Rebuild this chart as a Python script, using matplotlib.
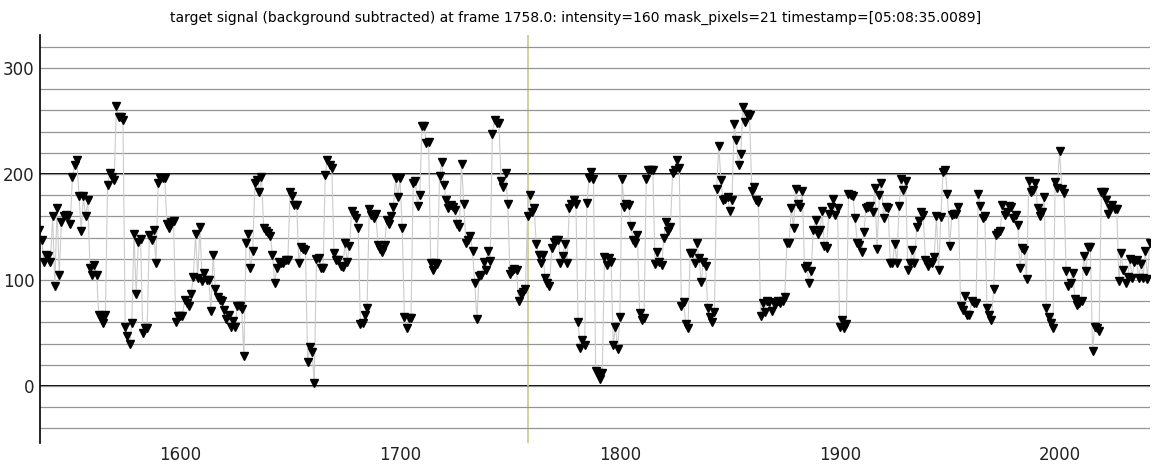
import numpy as np
import matplotlib
matplotlib.use("Agg")
import matplotlib.pyplot as plt
from matplotlib.ticker import MultipleLocator

# intensity per frame, first frame is 1536
first_frame = 1536
intensity = [
    147, 138, 117, 124, 123, 117, 160, 94, 168, 105,
    155, 160, 161, 160, 153, 197, 208, 213, 179, 146,
    179, 160, 175, 111, 105, 114, 105, 67, 64, 59,
    67, 190, 201, 197, 194, 264, 254, 254, 251, 56,
    47, 40, 59, 143, 87, 136, 139, 50,
    55, 55,
    142, 138, 147, 116, 191, 196, 196, 196, 153, 149,
    155, 156, 60, 66, 66, 66, 81, 78, 75, 87,
    103, 143, 102, 150, 99, 107, 100, 100, 71, 124,
    91, 84, 81, 80, 72, 63, 67, 56, 61, 56,
    75, 75, 73, 28,
    135, 143, 111, 127, 191, 194, 183, 197, 149, 146,
    144, 141, 124, 97, 111, 117, 116, 116, 119, 119,
    183, 179, 171, 171, 116, 131, 129, 128, 23, 37,
    32, 3, 120, 121, 111, 111, 199, 213, 208, 206,
    125, 119, 119, 113,
    112, 135, 117, 132,
    165, 161, 158, 149, 58, 59, 67, 74, 167, 161,
    158, 162, 133, 129, 126, 133, 157, 153, 160, 169,
    196, 178, 196, 149, 65, 55, 64, 64, 191, 193,
    170, 180, 245, 245, 229, 230, 116, 109, 116, 115,
    198, 211,
    190, 175, 168, 171, 169, 166, 153, 150, 209, 172,
    135, 138, 141, 127, 97, 63, 104, 105, 117, 109,
    127, 118, 238, 251, 248, 248, 193, 188, 201, 172,
    106, 108, 110, 109, 80, 87, 89, 91, 160, 180,
    164, 168, 134, 124, 116, 124, 102,
    97, 94, 130, 136, 138, 138, 116, 123, 134, 116,
    168, 172, 175, 172, 60, 36, 43, 39, 173, 196,
    202, 195, 14, 12, 7, 12, 122, 114, 121, 117,
    39, 56, 35, 65, 195, 169, 172, 171, 151, 138,
    135, 142, 69, 62,
    64,
    195, 204, 204, 204, 115, 126, 117, 114, 140, 155,
    146, 150, 201, 204, 213, 206, 75, 79, 58, 55,
    125, 125, 116, 135, 121, 98, 117, 113, 74, 65,
    60, 70, 186, 226, 194, 175, 176, 178, 165, 175,
    247, 232, 208, 219, 263,
    249, 257, 256,
    184, 188, 175, 174, 66, 78, 70, 80, 79, 71,
    78, 78, 80, 78, 80, 84, 135, 135, 168, 149,
    186, 172, 169, 184, 111, 113, 97, 108, 147, 157,
    143, 147, 165, 132, 130, 162, 169, 176, 161, 168,
    56, 62, 55,
    58,
    181, 180, 179, 158, 135, 133, 126, 145, 168, 169,
    170, 164, 187, 129, 180, 191, 158, 169, 168, 116,
    116, 134, 116, 170, 195, 185, 193, 109, 116, 128,
    116, 150, 156, 164, 161, 119, 113, 117, 116, 122,
    160, 109, 159, 202,
    204,
    181, 132, 161, 162, 162, 169, 75, 72, 85, 67,
    67, 80, 78, 78, 181, 170, 158, 160, 74, 67,
    62, 91, 142, 144, 146, 171, 161, 164, 170, 169,
    158, 161, 152, 111, 130, 128, 101, 193, 183, 185,
    191, 168, 160,
    164, 178, 74, 65, 59, 55, 192, 187, 222, 186,
    182, 108, 94, 97, 107, 82, 76, 78, 80, 123,
    108, 131, 131, 33, 56, 55, 52, 183, 183, 175,
    162, 168, 171, 167, 167, 99, 125, 109, 97, 103,
    120, 102, 117, 119, 102, 115, 102, 127, 101, 135,
]
frames = np.arange(first_frame, first_frame + len(intensity))

current_frame = 1758.0
title = ("target signal (background subtracted) at frame 1758.0: intensity=160 "
         "mask_pixels=21 timestamp=[05:08:35.0089]")
y_ticks = [0, 100, 200, 300]
x_ticks = [1600, 1700, 1800, 1900, 2000]

fig = plt.figure(figsize=(11.52, 4.68), dpi=100)
ax = fig.add_axes([0.035, 0.053, 0.963, 0.872])

ax.yaxis.set_minor_locator(MultipleLocator(20))
ax.grid(which="minor", axis="y", color="#959595", lw=0.9)
ax.grid(which="major", axis="y", color="#959595", lw=0.9)
ax.axhline(0, color="black", lw=1.4, zorder=1)
ax.axhline(200, color="black", lw=1.4, zorder=1)
ax.axvline(current_frame, color="#c9cc8a", lw=1.2, zorder=1)

ax.plot(frames, intensity, color="#cccccc", lw=0.8, zorder=2)
ax.plot(frames, intensity, ls="none", marker="v", ms=5.5, color="black", zorder=3)

ax.set_xlim(1536.4, 2041)
ax.set_ylim(-54, 331)
ax.set_xticks(x_ticks)
ax.set_yticks(y_ticks)
ax.tick_params(axis="both", which="both", length=0, labelsize=12, colors="#222222", pad=4)
ax.tick_params(axis="x", pad=2)

for s in ["top", "right", "bottom"]:
    ax.spines[s].set_visible(False)
ax.spines["left"].set_color("black")
ax.spines["left"].set_linewidth(1.2)

fig.text(0.5, 0.962, title, ha="center", va="center", fontsize=10)

fig.savefig("out.png", dpi=100)
